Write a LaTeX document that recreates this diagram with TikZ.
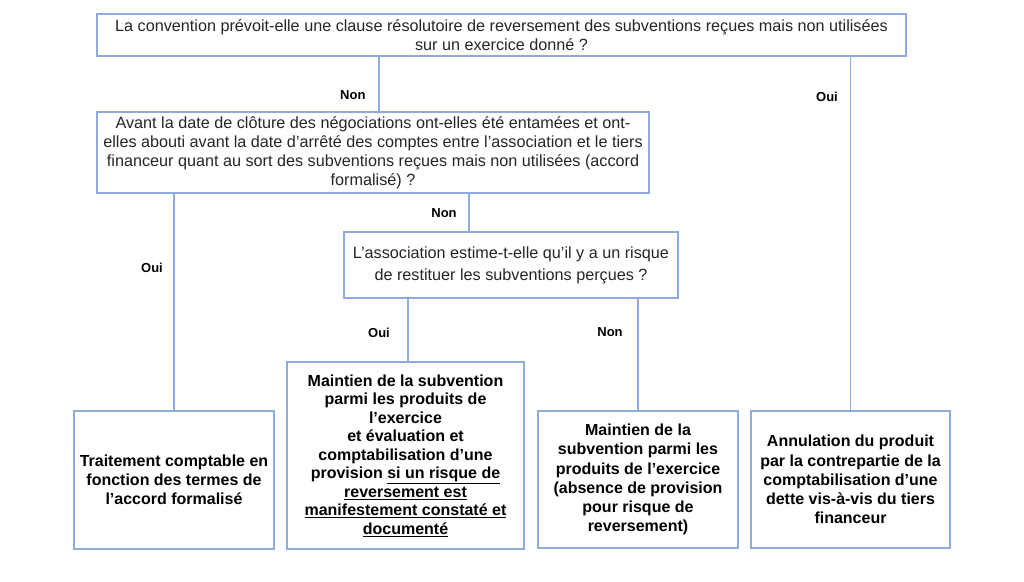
\documentclass[tikz,border=0pt]{standalone}
\usepackage{fontspec}
\setmainfont{Liberation Sans}
\usetikzlibrary{positioning}
\definecolor{boxblue}{RGB}{143,170,220}
\definecolor{txtgray}{RGB}{38,38,38}

\begin{document}
\begin{tikzpicture}[x=1pt,y=-1pt,qbox/.style={draw=boxblue,fill=white,line width=1.3pt,align=center,inner sep=0pt,text=txtgray,font=\fontsize{16.2}{19}\selectfont},rbox/.style={qbox,text=black,font=\fontsize{16}{19.2}\selectfont\bfseries},lnk/.style={draw=boxblue,line width=1.1pt},lab/.style={font=\fontsize{13}{15}\selectfont\bfseries,text=black}]
\fill[white] (0,0) rectangle (1024,581);
\useasboundingbox (0,0) rectangle (1024,581);

% questions
\node[qbox,minimum width=809pt,minimum height=42pt] (q1) at(501.5,35) {La convention prévoit-elle une clause résolutoire de reversement des subventions reçues mais non utilisées\\sur un exercice donné ?};
\node[qbox,minimum width=552pt,minimum height=81pt] (q2) at(373,152.5) {Avant la date de clôture des négociations ont-elles été entamées et ont-\\elles abouti avant la date d’arrêté des comptes entre l’association et le tiers\\financeur quant au sort des subventions reçues mais non utilisées (accord\\formalisé) ?};
\node[qbox,minimum width=334pt,minimum height=66pt,font=\fontsize{16.2}{22}\selectfont] (q3) at(511,265) {L'association estime-t-elle qu'il y a un risque\\de restituer les subventions perçues ?};

% results
\node[rbox,minimum width=200pt,minimum height=138pt] (r1) at(174,480) {Traitement comptable en\\fonction des termes de\\l’accord formalisé};
\node[rbox,minimum width=237pt,minimum height=187pt,font=\fontsize{16}{18.5}\selectfont\bfseries] (r2) at(405.5,455.5) {Maintien de la subvention\\parmi les produits de\\l’exercice\\et évaluation et\\comptabilisation d’une\\provision \underline{si un risque de}\\\underline{reversement est}\\\underline{manifestement constaté et}\\\underline{documenté}};
\node[rbox,minimum width=200pt,minimum height=137pt] (r3) at(638,479.5) {Maintien de la\\subvention parmi les\\produits de l’exercice\\(absence de provision\\pour risque de\\reversement)};
\node[rbox,minimum width=199pt,minimum height=137pt] (r4) at(850.5,479.5) {Annulation du produit\\par la contrepartie de la\\comptabilisation d’une\\dette vis-à-vis du tiers\\financeur};

\coordinate (c1) at(379,0);
\coordinate (c2) at(469,0);
\coordinate (c3) at(408,0);
\draw[lnk] (q1.south -| c1) -- (q2.north -| c1);
\draw[lnk] (q1.south -| r4.north) -- (r4.north);
\draw[lnk] (q2.south -| r1.north) -- (r1.north);
\draw[lnk] (q2.south -| c2) -- (q3.north -| c2);
\draw[lnk] (q3.south -| c3) -- (r2.north -| c3);
\draw[lnk] (q3.south -| r3.north) -- (r3.north);

\node[lab,anchor=east] (n1) at(369,95) {Non};
\node[lab] (o1) at(827,97) {Oui};
\node[lab] (o2) at(152,268) {Oui};
\node[lab] (n2) at(444,213) {Non};
\node[lab] (o3) at(379,333) {Oui};
\node[lab] (n3) at(610,332) {Non};
\end{tikzpicture}
\end{document}
